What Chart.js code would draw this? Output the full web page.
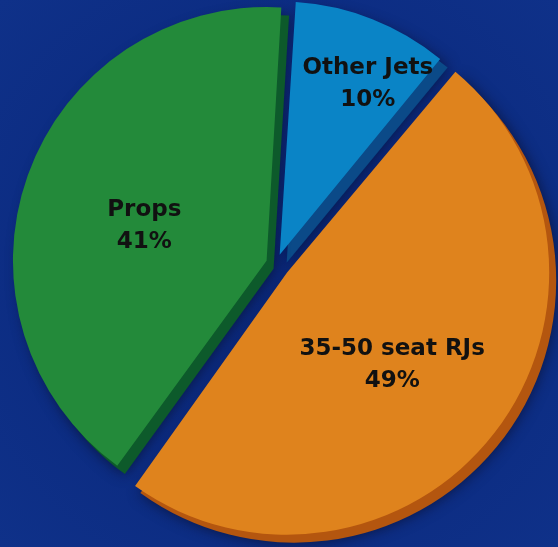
<!DOCTYPE html>
<html><head><meta charset="utf-8">
<script src="https://cdn.jsdelivr.net/npm/chart.js@4"></script>
<style>
html,body{margin:0;padding:0;overflow:hidden;background:#0c2c82}
#wrap{width:558px;height:547px;position:relative;background:radial-gradient(circle at 50% 50%, #0a2778 0%, #0c2c82 60%, #0f3189 100%)}
canvas{display:block}
</style></head>
<body><div id="wrap"><canvas id="c" width="558" height="547"></canvas></div>
<script>
const categories = ['Other Jets', '35-50 seat RJs', 'Props'];
const shares = [10, 49, 41];
const percentLabels = ['10%', '49%', '41%'];

const sliceColors = ['#0a84c6', '#df831d', '#238a3a'];
const sideColors = ['#0b4a88', '#b4560f', '#0d5a2b'];
const sliceOffsets = [40, 56, 40];
const labelRadiusFrac = [0.772, 0.562, 0.51];
const labelAngleShift = [5.5, 3.3, -3.7];

const extrudePlugin = {
  id: 'extrude',
  beforeDatasetsDraw(chart) {
    const ctx = chart.ctx;
    const meta = chart.getDatasetMeta(0);
    meta.data.forEach((arc, i) => {
      const p = arc.getProps(['x', 'y', 'startAngle', 'endAngle', 'outerRadius', 'circumference'], true);
      const off = (arc.options.offset || 0) / 4;
      const fix = 1 - Math.sin(Math.min(Math.PI, p.circumference || 0));
      const r = p.outerRadius + off * fix;
      const mid = (p.startAngle + p.endAngle) / 2;
      const cx = p.x + Math.cos(mid) * off + 7;
      const cy = p.y + Math.sin(mid) * off + 8;
      ctx.save();
      ctx.shadowColor = 'rgba(10,16,48,0.8)';
      ctx.shadowBlur = 14;
      ctx.fillStyle = sideColors[i];
      ctx.beginPath();
      ctx.moveTo(cx, cy);
      ctx.arc(cx, cy, r, p.startAngle, p.endAngle);
      ctx.closePath();
      ctx.fill();
      ctx.restore();
    });
  }
};

const labelPlugin = {
  id: 'sliceLabels',
  afterDatasetsDraw(chart) {
    const ctx = chart.ctx;
    const meta = chart.getDatasetMeta(0);
    meta.data.forEach((arc, i) => {
      const p = arc.getProps(['x', 'y', 'startAngle', 'endAngle', 'outerRadius'], true);
      const off = (arc.options.offset || 0) / 4;
      const mid = (p.startAngle + p.endAngle) / 2 + labelAngleShift[i] * Math.PI / 180;
      const d = off + labelRadiusFrac[i] * p.outerRadius;
      const lx = p.x + Math.cos(mid) * d;
      const ly = p.y + Math.sin(mid) * d;
      ctx.save();
      ctx.font = 'bold 23px "DejaVu Sans", sans-serif';
      ctx.fillStyle = '#111111';
      ctx.textAlign = 'center';
      ctx.textBaseline = 'middle';
      ctx.fillText(categories[i], lx, ly - 16);
      ctx.fillText(percentLabels[i], lx, ly + 16);
      ctx.restore();
    });
  }
};

new Chart(document.getElementById('c'), {
  type: 'pie',
  data: {
    labels: categories,
    datasets: [{
      data: shares,
      backgroundColor: sliceColors,
      borderWidth: 0,
      offset: sliceOffsets,
      radius: 249,
      clip: false
    }]
  },
  options: {
    responsive: false,
    devicePixelRatio: 1,
    animation: false,
    rotation: 3.5,
    layout: { padding: { left: 0, right: 6, top: 0, bottom: 19 } },
    plugins: { legend: { display: false }, tooltip: { enabled: false } }
  },
  plugins: [extrudePlugin, labelPlugin]
});
</script>
</body></html>
